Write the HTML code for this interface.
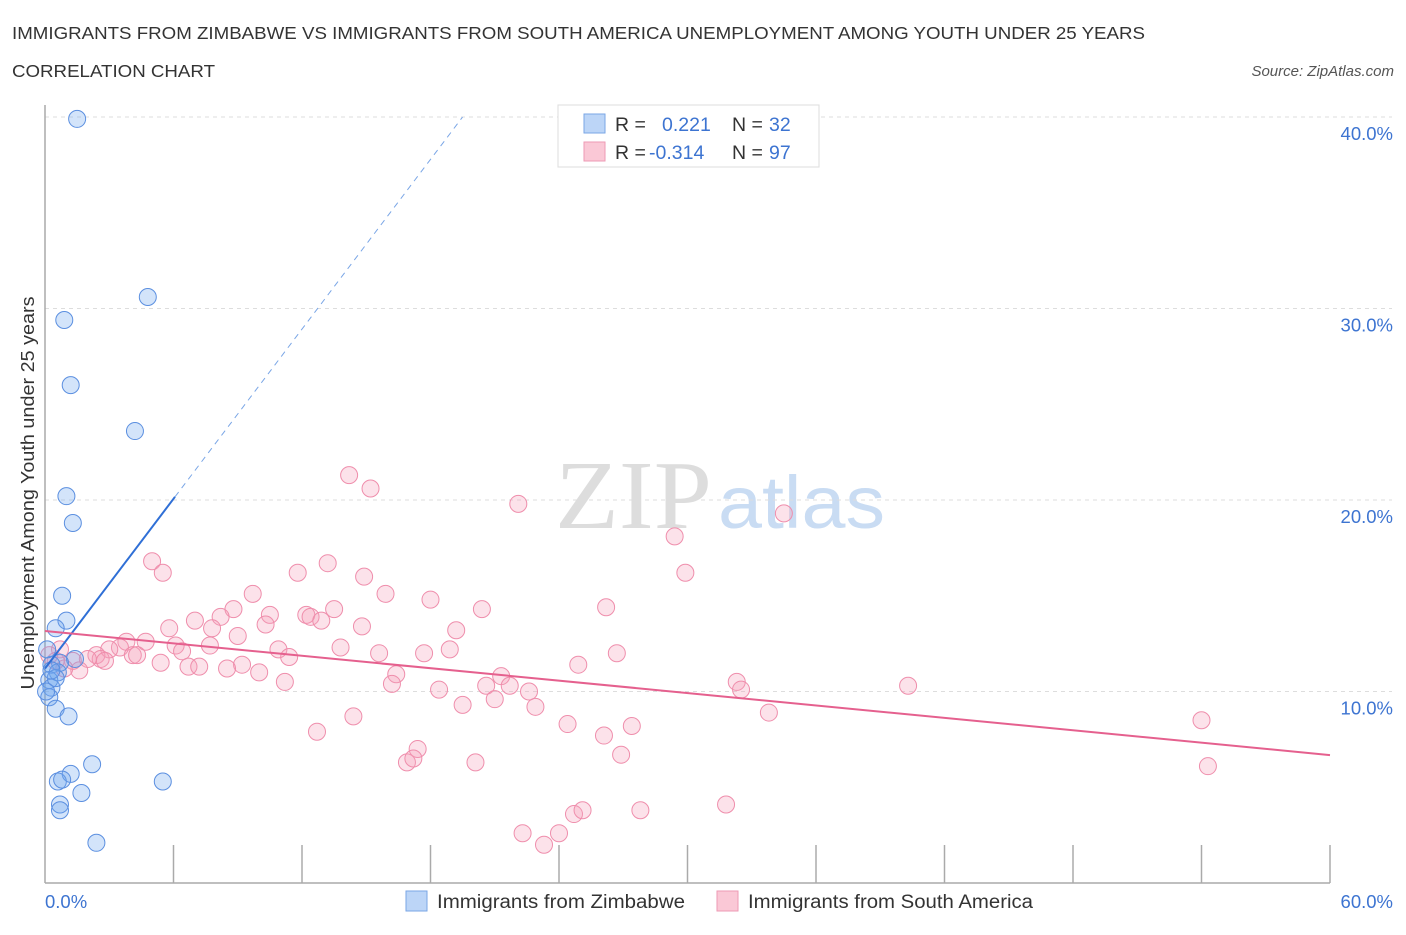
<!DOCTYPE html>
<html><head><meta charset="utf-8"><style>
body{margin:0;background:#fff;font-family:"Liberation Sans",sans-serif}
</style></head><body>
<svg id="chart" width="1406" height="930" xmlns="http://www.w3.org/2000/svg" font-family="Liberation Sans, sans-serif">
<text x="12" y="39" font-size="17.5" fill="#333" textLength="1133" lengthAdjust="spacingAndGlyphs">IMMIGRANTS FROM ZIMBABWE VS IMMIGRANTS FROM SOUTH AMERICA UNEMPLOYMENT AMONG YOUTH UNDER 25 YEARS</text>
<text x="12" y="77" font-size="17.5" fill="#333" textLength="203" lengthAdjust="spacingAndGlyphs">CORRELATION CHART</text>
<text x="1394" y="76" font-size="15" font-style="italic" fill="#555" text-anchor="end">Source: ZipAtlas.com</text>
<g>
<text x="555" y="528" font-size="98" font-family="Liberation Serif, serif" fill="#ddd" textLength="157" lengthAdjust="spacingAndGlyphs">ZIP</text>
<text x="718" y="528" font-size="74" fill="#c9dcf3" textLength="167" lengthAdjust="spacingAndGlyphs">atlas</text>
</g>
<g id="grid"></g>
<g id="axes"></g>
<g id="marks"></g>
<text transform="translate(34,493) rotate(-90)" font-size="18" fill="#333" text-anchor="middle" textLength="393" lengthAdjust="spacingAndGlyphs">Unemployment Among Youth under 25 years</text>
<g>
<rect x="558" y="105" width="261" height="62" fill="#fff" stroke="#ddd"/>
<rect x="584" y="114" width="21" height="19" fill="#bcd5f7" stroke="#7aa6e6"/>
<rect x="584" y="142" width="21" height="19" fill="#fac8d6" stroke="#ee9ab4"/>
<text x="615" y="131" font-size="19.5" fill="#333">R =</text>
<text x="662" y="131" font-size="19.5" fill="#3d74d1">0.221</text>
<text x="732" y="131" font-size="19.5" fill="#333">N =</text>
<text x="769" y="131" font-size="19.5" fill="#3d74d1">32</text>
<text x="615" y="159" font-size="19.5" fill="#333">R =</text>
<text x="649" y="159" font-size="19.5" fill="#3d74d1">-0.314</text>
<text x="732" y="159" font-size="19.5" fill="#333">N =</text>
<text x="769" y="159" font-size="19.5" fill="#3d74d1">97</text>
</g>
<g>
<rect x="406" y="891" width="21" height="20" fill="#bcd5f7" stroke="#7aa6e6"/>
<text x="437" y="908" font-size="19" fill="#333" textLength="248" lengthAdjust="spacingAndGlyphs">Immigrants from Zimbabwe</text>
<rect x="717" y="891" width="21" height="20" fill="#fac8d6" stroke="#ee9ab4"/>
<text x="748" y="908" font-size="19" fill="#333" textLength="285" lengthAdjust="spacingAndGlyphs">Immigrants from South America</text>
</g>
</svg>
<script>
const yTicks=[10,20,30,40];
const yTickLabels=["10.0%","20.0%","30.0%","40.0%"];
const xTickLabels=["0.0%","60.0%"];
const blueX=[1.5,4.8,0.9,1.2,4.2,1.0,1.3,0.8,1.0,0.5,1.4,0.7,0.3,0.6,0.2,0.3,0.2,0.5,1.1,2.2,1.2,0.6,0.8,5.5,1.7,0.7,0.7,2.4,0.1,0.5,0.3,0.05];
const blueY=[39.9,30.6,29.4,26.0,23.6,20.2,18.8,15.0,13.7,13.3,11.7,11.5,11.4,11.0,10.6,10.2,9.7,9.1,8.7,6.2,5.7,5.3,5.4,5.3,4.7,4.1,3.8,2.1,12.2,10.7,11.1,10.0];
const pinkX=[14.2,15.2,22.1,34.5,29.4,5.0,5.5,11.8,13.2,14.9,29.9,9.7,15.9,18.0,8.8,10.5,12.2,12.4,13.5,20.4,26.2,7.0,8.2,10.3,12.9,14.8,7.8,5.8,19.2,3.8,4.7,3.5,3.0,2.4,2.6,2.0,2.8,4.1,4.3,5.4,6.1,6.4,7.7,9.0,9.2,10.9,11.4,13.8,15.6,17.7,18.9,26.7,6.7,7.2,8.5,10.0,11.2,16.4,16.2,18.4,20.6,21.3,21.7,22.6,24.9,32.3,32.5,40.3,19.5,21.0,22.9,33.8,14.4,12.7,24.4,27.4,26.1,26.9,17.4,16.9,17.2,20.1,54.0,54.3,31.8,27.8,24.7,25.1,22.3,23.3,24.0,1.6,1.3,0.7,0.9,0.5,0.2];
const pinkY=[21.3,20.6,19.8,19.3,18.1,16.8,16.2,16.2,16.7,16.0,16.2,15.1,15.1,14.8,14.3,14.0,14.0,13.9,14.3,14.3,14.4,13.7,13.9,13.5,13.7,13.4,13.3,13.3,13.2,12.6,12.6,12.3,12.2,11.9,11.7,11.7,11.6,11.9,11.9,11.5,12.4,12.1,12.4,12.9,11.4,12.2,11.8,12.3,12.0,12.0,12.2,12.0,11.3,11.3,11.2,11.0,10.5,10.9,10.4,10.1,10.3,10.8,10.3,10.0,11.4,10.5,10.1,10.3,9.3,9.6,9.2,8.9,8.7,7.9,8.3,8.2,7.7,6.7,7.0,6.3,6.5,6.3,8.5,6.1,4.1,3.8,3.6,3.8,2.6,2.0,2.6,11.1,11.6,12.2,11.2,11.6,11.9];
const blueTrend=[11.2,1.477];   // intercept, slope
const pinkTrend=[13.16,-0.108];
const NS="http://www.w3.org/2000/svg";
const X0=45,X1=1330,Y0=883,PPY=19.15;
function sx(v){return X0+v/60*(X1-X0);}
function sy(v){return Y0-v*PPY;}
function mk(parent,tag,attrs){const e=document.createElementNS(NS,tag);for(const k in attrs)e.setAttribute(k,attrs[k]);document.getElementById(parent).appendChild(e);return e;}
yTicks.forEach((t,i)=>{
 const g=mk('grid','line',{x1:X0,x2:1392,y1:sy(t),y2:sy(t),stroke:'#ddd','stroke-dasharray':'4,4'});
 
 
 const l=mk('axes','text',{x:1393,y:sy(t)+23,'font-size':18.5,fill:'#3d74d1','text-anchor':'end'});
 l.textContent=yTickLabels[i];
 
 
});
const ax=mk('axes','line',{x1:X0,x2:X1,y1:Y0,y2:Y0,stroke:'#aaa','stroke-width':1.5});


const ay=mk('axes','line',{x1:X0,x2:X0,y1:105,y2:Y0,stroke:'#aaa','stroke-width':1.5});


for(let i=1;i<=10;i++){
 const t=mk('axes','line',{x1:sx(i*6),x2:sx(i*6),y1:Y0-38,y2:Y0,stroke:'#aaa','stroke-width':1.5});
 
 
}
const xl0=mk('axes','text',{x:45,y:908,'font-size':18.5,fill:'#3d74d1'});xl0.textContent=xTickLabels[0];


const xl1=mk('axes','text',{x:1393,y:908,'font-size':18.5,fill:'#3d74d1','text-anchor':'end'});xl1.textContent=xTickLabels[1];


pinkX.forEach((v,i)=>{
 const c=mk('marks','circle',{cx:sx(v),cy:sy(pinkY[i]),r:8.5,fill:'rgba(246,160,186,0.3)',stroke:'#ef8eac','stroke-width':1});
 
 
});
blueX.forEach((v,i)=>{
 const c=mk('marks','circle',{cx:sx(v),cy:sy(blueY[i]),r:8.5,fill:'rgba(110,165,240,0.3)',stroke:'#5b8fe0','stroke-width':1});
 
 
});
const bEnd=6.07, bDash=(40-blueTrend[0])/blueTrend[1];
const b1=mk('marks','line',{x1:sx(0),y1:sy(blueTrend[0]),x2:sx(bEnd),y2:sy(blueTrend[0]+blueTrend[1]*bEnd),stroke:'#2f6fd6','stroke-width':2});


const b2=mk('marks','line',{x1:sx(bEnd),y1:sy(blueTrend[0]+blueTrend[1]*bEnd),x2:sx(bDash),y2:sy(40),stroke:'#7aa6e6','stroke-width':1,'stroke-dasharray':'6,5'});


const p1=mk('marks','line',{x1:sx(0),y1:sy(pinkTrend[0]),x2:sx(60),y2:sy(pinkTrend[0]+pinkTrend[1]*60),stroke:'#e5608e','stroke-width':2});


</script>
</body></html>
